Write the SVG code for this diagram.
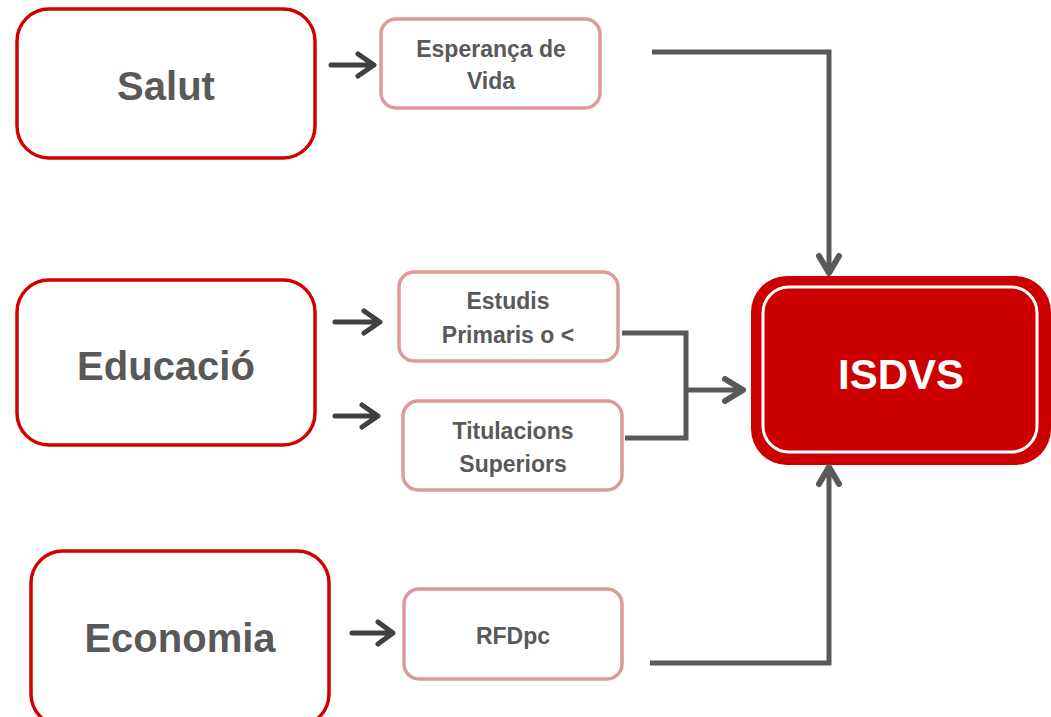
<svg xmlns="http://www.w3.org/2000/svg" width="1051" height="717" viewBox="0 0 1051 717">
<style>
.big{fill:#fff;stroke:#d40000;stroke-width:3.5}
.small{fill:#fff;stroke:#dc9a98;stroke-width:3.5}
.t{font-family:"Liberation Sans",Arial,sans-serif;font-weight:bold;fill:#595959;text-anchor:middle}
.tb{font-size:40px}
.ts{font-size:23px}
.ar{fill:none;stroke:#404040;stroke-width:5;stroke-linecap:round;stroke-linejoin:round}
.cn{fill:none;stroke:#595959;stroke-width:5}
.hd{fill:none;stroke:#595959;stroke-width:6;stroke-linecap:round;stroke-linejoin:round}
</style>
<rect width="1051" height="717" fill="#fff"/>
<g id="salut"><rect class="big" x="17" y="9" width="298" height="149" rx="32"/><text class="t tb" x="166" y="100">Salut</text></g>
<g id="esperanca"><rect class="small" x="381" y="19" width="219" height="89" rx="15"/><text class="t ts" x="491" y="57">Esperança de</text><text class="t ts" x="491" y="89">Vida</text></g>
<g id="educacio"><rect class="big" x="17" y="280" width="298" height="165" rx="32"/><text class="t tb" x="166" y="380">Educació</text></g>
<g id="estudis"><rect class="small" x="399" y="272" width="219" height="89" rx="15"/><text class="t ts" x="508" y="309">Estudis</text><text class="t ts" x="508" y="343">Primaris o &lt;</text></g>
<g id="titulacions"><rect class="small" x="403" y="401" width="219" height="89" rx="15"/><text class="t ts" x="513" y="439">Titulacions</text><text class="t ts" x="513" y="472">Superiors</text></g>
<g id="economia"><rect class="big" x="31" y="551" width="298" height="175" rx="32"/><text class="t tb" x="180" y="652">Economia</text></g>
<g id="rfdpc"><rect class="small" x="404" y="589" width="218" height="90" rx="15"/><text class="t ts" x="513" y="644">RFDpc</text></g>
<g id="isdvs"><rect x="751" y="276" width="300" height="189" rx="36" fill="#cc0000"/><rect x="763" y="287" width="274" height="165" rx="26" fill="none" stroke="#fff" stroke-width="3"/><text x="901" y="389" font-family="'Liberation Sans',Arial,sans-serif" font-weight="bold" font-size="42" fill="#fff" text-anchor="middle">ISDVS</text></g>
<g id="connectors">
<path class="ar" d="M331 65H372M358 54L374 65L358 76"/>
<path class="ar" d="M335 322H378M364 311L380 322L364 333"/>
<path class="ar" d="M335 416H376M362 405L378 416L362 427"/>
<path class="ar" d="M352 633H391M378 622L393 633L378 644"/>
<path class="cn" d="M652 52H829V272"/>
<path class="hd" d="M819 256L829 273L839 256"/>
<path class="cn" d="M622 333H686V438H625"/>
<path class="cn" d="M686 390H741" stroke-width="7"/>
<path class="hd" d="M725 379L743 390L725 401" stroke-width="7"/>
<path class="cn" d="M650 663H829V469"/>
<path class="hd" d="M819 484L829 467L839 484"/>
</g>
</svg>
